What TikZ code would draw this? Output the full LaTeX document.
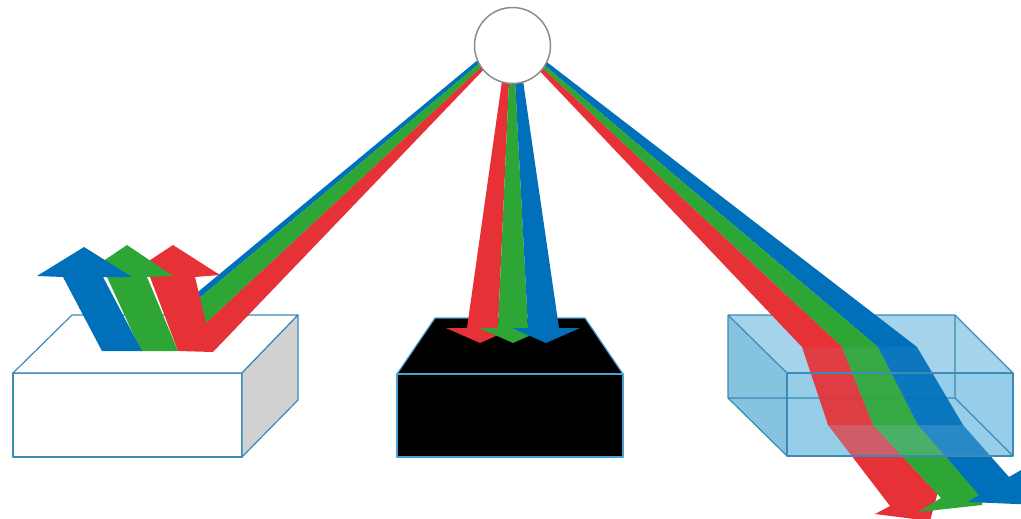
\documentclass[tikz,border=0pt]{standalone}
\usetikzlibrary{positioning}

\definecolor{beamR}{RGB}{230,49,54}
\definecolor{beamG}{RGB}{46,166,54}
\definecolor{beamB}{RGB}{0,112,187}
\definecolor{boxedge}{RGB}{59,138,184}
\definecolor{blackedge}{RGB}{74,160,210}
\definecolor{water}{RGB}{165,211,235}
\definecolor{waterside}{RGB}{133,195,222}
\definecolor{waterfront}{RGB}{150,205,233}

\begin{document}
\begin{tikzpicture}[x=1pt, y=-1pt, line join=round,
    tankedge/.style={draw=boxedge, line width=1.2pt}]
  \useasboundingbox (0,0) rectangle (1021,519);

  % White box (reflecting surface)
  \draw[tankedge, fill=white] (13,373) rectangle (242,457);
  \draw[tankedge, fill=white] (13,373) -- (72,315) -- (298,315) -- (242,373) -- cycle;
  \draw[tankedge, fill=black!18] (242,373) -- (298,315) -- (298,400) -- (242,457) -- cycle;

  % Incoming rays on the white box
  \fill[beamB] (485,54) -- (487,57) -- (183,312) -- (181,306) -- cycle;
  \fill[beamG] (487,57) -- (489,60) -- (191,337) -- (183,312) -- cycle;

  % Reflected arrows (red below, blue on top)
  \fill[beamR] (173,245) -- (220,275) -- (195,277) -- (206,323) -- (489,60) -- (491,62)
    -- (213,352) -- (178,351) -- (150,277) -- (126,276) -- cycle;
  \fill[beamG] (127,245) -- (173,276) -- (147,277) -- (178,351) -- (141,351) -- (107,277) -- (81,276) -- cycle;
  \fill[beamB] (84,247) -- (132,277) -- (103,277) -- (142,351) -- (102,351) -- (63,277) -- (37,276) -- cycle;

  % Black box (absorbing surface)
  \draw[blackedge, line width=1.2pt, fill=black] (397,374) -- (435,318) -- (585,318) -- (623,374) -- cycle;
  \draw[blackedge, line width=1.2pt, fill=black] (397,374) rectangle (623,457);

  % Rays absorbed by the black box
  \foreach \col/\sl/\sr/\bl/\br/\tip in {beamR/505/510/467/498/480, beamG/510/514/498/528/513, beamB/514/520/528/559/546} {
    \fill[\col] (\sl,60) -- (\sr,60) -- (\br,328) -- (\tip+34,328) -- (\tip,343) -- (\tip-34,328) -- (\bl,328) -- cycle;
  }

  % Water tank: back, side and floor
  \fill[water] (728,315) -- (955,315) -- (1013,373) -- (1013,456) -- (787,456) -- (728,398) -- cycle;
  \fill[waterside] (728,315) -- (787,373) -- (787,456) -- (728,398) -- cycle;
  \fill[waterfront] (787,373) rectangle (1013,456);
  \draw[tankedge] (728,398) -- (955,398) -- (955,315) (955,398) -- (1013,456);

  % Rays leaving the tank
  \fill[beamR] (851.8,456) -- (901.9,456) -- (928,484) -- (942,477) -- (930,521) -- (875,514) -- (890,506) -- cycle;
  \fill[beamG] (901.9,456) -- (945.2,456) -- (968,482) -- (988,470) -- (982,505) -- (918,512) -- (941,498) -- cycle;
  \fill[beamB] (945.2,456) -- (990.4,456) -- (1009,477) -- (1035,462) -- (1040,505) -- (968,502) -- (979,495) -- cycle;

  % Rays inside the water
  \foreach \col/\a/\b/\c/\d in {beamR/828/873/901.9/851.8, beamG/873/918/945.2/901.9, beamB/918/963/990.4/945.2} {
    \fill[\col, fill opacity=0.72] (\a,425) -- (\b,425) -- (\c,456) -- (\d,456) -- cycle;
  }
  \foreach \col/\a/\b/\c/\d in {beamR/802/842/873/828, beamG/842/878/918/873, beamB/878/917/963/918} {
    \fill[\col, fill opacity=0.92] (\a,347) -- (\b,347) -- (\c,425) -- (\d,425) -- cycle;
  }

  % Water tank: front edges
  \draw[tankedge] (787,373) rectangle (1013,456);
  \draw[tankedge] (728,315) -- (955,315) -- (1013,373) (728,315) -- (787,373) (728,315) -- (728,398) -- (787,456);

  % Incoming rays on the water
  \fill[beamB] (539,56) -- (917,347) -- (878,347) -- (537,59) -- cycle;
  \fill[beamG] (537,59) -- (878,347) -- (842,347) -- (536,62) -- cycle;
  \fill[beamR] (536,62) -- (842,347) -- (802,347) -- (534,65) -- cycle;

  % Light source
  \node[circle, draw=black!45, line width=1.5pt, fill=white, minimum size=76pt, inner sep=0pt] (lamp) at (512.5,45.5) {};
\end{tikzpicture}
\end{document}
